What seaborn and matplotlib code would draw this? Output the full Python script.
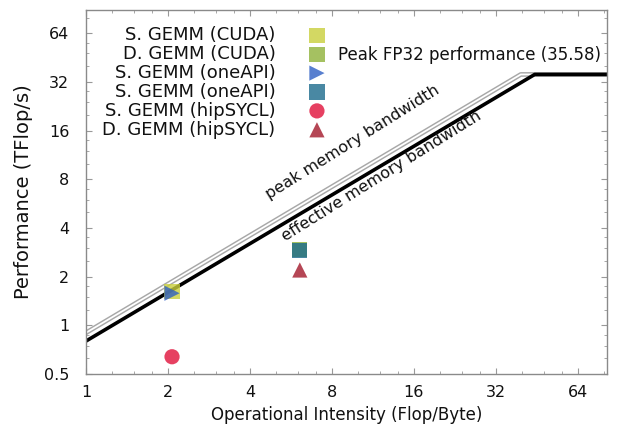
import numpy as np
import pandas as pd
import matplotlib
matplotlib.use("Agg")
import matplotlib.pyplot as plt
import seaborn as sns
from matplotlib.ticker import FixedLocator, FixedFormatter, LogLocator, NullFormatter

# roofline parameters (TFlop/s, TB/s)
peak_flops = 35.58
eff_bw = 0.80
peak_bw = 0.90
x_max = 82

# measured results
labels = ["S. GEMM (CUDA)", "D. GEMM (CUDA)", "S. GEMM (oneAPI)",
          "S. GEMM (oneAPI)", "S. GEMM (hipSYCL)", "D. GEMM (hipSYCL)"]
intensity = [2.07, 6.1, 2.07, 6.1, 2.07, 6.1]
perf = [1.62, 2.95, 1.58, 2.90, 0.64, 2.2]
markers = ["s", "s", ">", "s", "o", "^"]
colors = ["#c9cf3c", "#8fb23a", "#2e5fc4", "#1b6a8c", "#e0103a", "#a3182a"]

xticks = [1, 2, 4, 8, 16, 32, 64]
yticks = [0.5, 1, 2, 4, 8, 16, 32, 64]

sns.set_style("ticks")
plt.rcParams["font.family"] = ["DejaVu Sans"]
plt.rcParams["text.color"] = "#111111"
plt.rcParams["axes.labelcolor"] = "#111111"
plt.rcParams["xtick.labelcolor"] = "#111111"
plt.rcParams["ytick.labelcolor"] = "#111111"

fig = plt.figure(figsize=(6.37, 4.36), dpi=100)
ax = fig.add_axes([0.135, 0.142, 0.818, 0.835])

# roofline curves
def roof(bw):
    knee = peak_flops / bw
    return pd.DataFrame({"x": [1, knee, x_max], "y": [bw, peak_flops, peak_flops]})

pk = roof(peak_bw)
ef = roof(eff_bw)
sns.lineplot(data=pk, x="x", y="y", ax=ax, color="#a8a8a8", lw=3.4, sort=False)
sns.lineplot(data=pk, x="x", y="y", ax=ax, color="white", lw=1.3, sort=False)
sns.lineplot(data=ef, x="x", y="y", ax=ax, color="black", lw=2.6, sort=False)

for i in range(len(labels)):
    ax.scatter([intensity[i]], [perf[i]], marker=markers[i], s=120,
               color=colors[i], alpha=0.8, edgecolors="none", label=labels[i], zorder=5)

ax.set_xscale("log", base=2)
ax.set_yscale("log", base=2)
ax.set_xlim(1, x_max)
ax.set_ylim(0.5, 89)

ax.xaxis.set_major_locator(FixedLocator(xticks))
ax.xaxis.set_major_formatter(FixedFormatter([str(t) for t in xticks]))
ax.yaxis.set_major_locator(FixedLocator(yticks))
ax.yaxis.set_major_formatter(FixedFormatter([str(t) for t in yticks]))
ax.xaxis.set_minor_locator(LogLocator(base=2, subs=np.arange(1.0, 2.0, 0.25)))
ax.yaxis.set_minor_locator(LogLocator(base=2, subs=np.arange(1.0, 2.0, 0.25)))
ax.xaxis.set_minor_formatter(NullFormatter())
ax.yaxis.set_minor_formatter(NullFormatter())
ax.tick_params(which="both", direction="in", top=True, right=True, color="#999999", labelsize=11.5)
ax.tick_params(which="major", length=4)
ax.tick_params(which="minor", length=2)
ax.tick_params(axis="y", pad=12)
ax.tick_params(axis="x", pad=8)
for s in ax.spines.values():
    s.set_color("#8a8a8a")
    s.set_linewidth(1.0)

ax.set_xlabel("Operational Intensity (Flop/Byte)", fontsize=12, labelpad=4)
ax.set_ylabel("Performance (TFlop/s)", fontsize=14, labelpad=8)

ax.text(8.4, 47, "Peak FP32 performance (35.58)", fontsize=12, ha="left", va="center")
ax.text(9.5, 13.5, "peak memory bandwidth", fontsize=11.5, rotation=32,
        ha="center", va="center")
ax.text(12.2, 8.4, "effective memory bandwidth", fontsize=11.5, rotation=32,
        ha="center", va="center")

ax.legend(loc="upper right", bbox_to_anchor=(335 / 637, 1 - 17 / 436),
          bbox_transform=fig.transFigure, markerfirst=False, frameon=False,
          fontsize=13, handletextpad=1.8, labelspacing=0.05, borderpad=0,
          handlelength=1.0, scatterpoints=1)

fig.savefig("out.png", dpi=100)
